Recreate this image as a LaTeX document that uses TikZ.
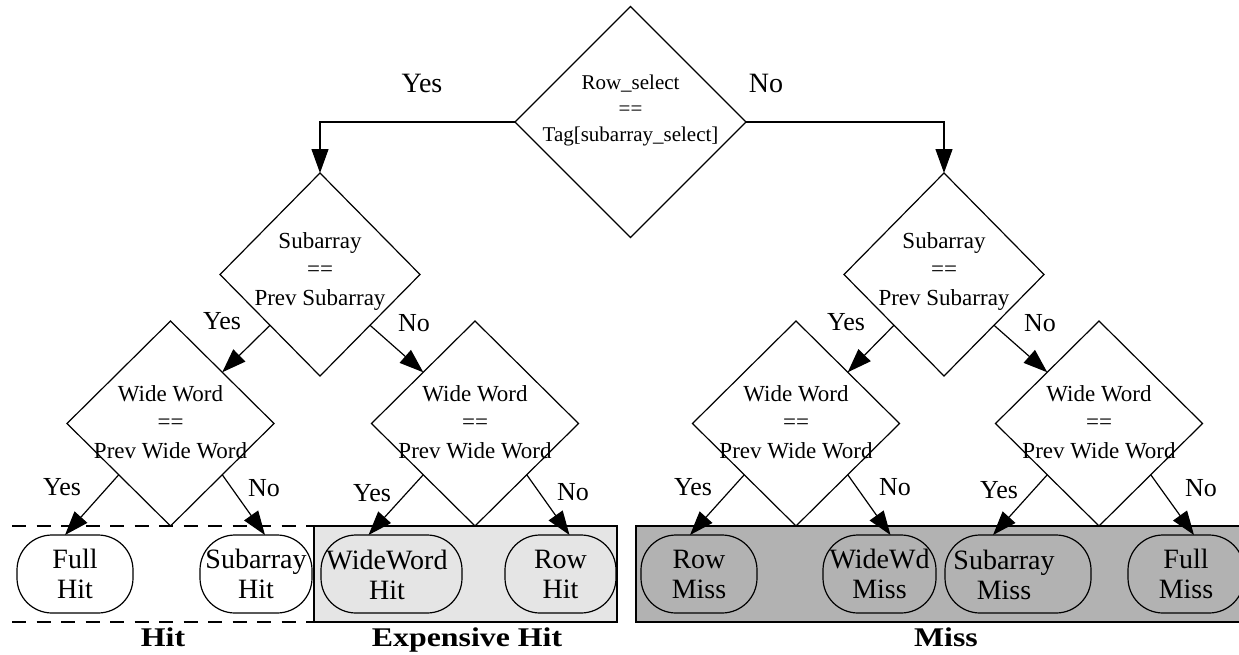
\documentclass[tikz,border=0pt]{standalone}
\usepackage{fontspec}
\setmainfont{Liberation Serif}
\newfontfamily\grpfont[FakeStretch=1.18]{Liberation Serif}
\usetikzlibrary{shapes.geometric,arrows.meta}
\tikzset{
  dia/.style={draw, shape=diamond, inner sep=0pt, outer sep=0pt, minimum width=207pt, minimum height=205pt, line width=1.2pt},
  dtext/.style={align=center, font=\fontsize{23}{28.5}\selectfont, inner sep=0pt},
  res/.style={draw, rounded corners=35pt, minimum height=78pt, minimum width=113pt, align=center, font=\fontsize{28}{30}\selectfont, inner sep=0pt, outer sep=0pt, line width=1.2pt},
  lbl/.style={font=\fontsize{26}{28}\selectfont, inner sep=0pt},
  toplbl/.style={font=\fontsize{28}{32}\selectfont, inner sep=0pt},
  arr/.style={-{Triangle[length=24pt,width=17pt]}, line width=1.2pt},
  grp/.style={font=\grpfont\bfseries\fontsize{27}{30}\selectfont, inner sep=0pt, anchor=base},
  grpbox/.style={draw, line width=1.3pt, inner sep=0pt, outer sep=0pt, anchor=north west},
  dashline/.style={dash pattern=on 14pt off 10.5pt, line width=1.3pt}
}
\begin{document}
\begin{tikzpicture}[x=1pt,y=-1pt]
\useasboundingbox (0,0) rectangle (1239,654);
% group areas
\coordinate (hitA) at (12,526);
\coordinate (hitB) at (314,526);
\coordinate (hitC) at (12,622);
\coordinate (hitD) at (314,622);
\draw[dashline] (hitA) -- (hitB);
\draw[dashline] (hitC) -- (hitD);
\node[grpbox, fill=black!10, minimum width=303pt, minimum height=96pt] (ebox) at (314,526) {};
\node[grpbox, fill=black!30, minimum width=620pt, minimum height=96pt] (mbox) at (636,526) {};
\node[grp] (hitl) at (163,646) {Hit};
\node[grp] (expl) at (467,646) {Expensive Hit};
\node[grp] (missl) at (946,646) {Miss};

% diamonds
\node[dia, minimum width=231pt, minimum height=231pt] (T) at (630.5,122) {};
\node[dtext, font=\fontsize{21}{26}\selectfont] (Tt) at (630.5,110) {Row\_select\\==\\Tag[subarray\_select]};
\node[dia, minimum width=200pt, minimum height=203pt] (L2) at (320,274.5) {};
\node[dtext] (L2t) at (320,271) {Subarray\\==\\Prev Subarray};
\node[dia, minimum width=200pt, minimum height=203pt] (R2) at (944,274.5) {};
\node[dtext] (R2t) at (944,271) {Subarray\\==\\Prev Subarray};
\node[dia] (L3) at (170.5,423.5) {};
\node[dtext] (L3t) at (170.5,422) {Wide Word\\==\\Prev Wide Word};
\node[dia] (L4) at (475,423.5) {};
\node[dtext] (L4t) at (475,422) {Wide Word\\==\\Prev Wide Word};
\node[dia] (R3) at (796,423.5) {};
\node[dtext] (R3t) at (796,422) {Wide Word\\==\\Prev Wide Word};
\node[dia] (R4) at (1099,423.5) {};
\node[dtext] (R4t) at (1099,422) {Wide Word\\==\\Prev Wide Word};

% results
\node[res, fill=white, minimum width=116pt] (fh) at (75,574) {Full\\Hit};
\node[res, fill=white, minimum width=112pt] (sh) at (256,574) {Subarray\\Hit};
\node[res, minimum width=141pt] (wh) at (391.5,574) {};
\node[font=\fontsize{28}{30}\selectfont, align=center, inner sep=0pt] (wht) at (387,575) {WideWord\\Hit};
\node[res, minimum width=111pt] (rh) at (560.5,574) {Row\\Hit};
\node[res, minimum width=116pt] (rm) at (699,574) {Row\\Miss};
\node[res, minimum width=113pt] (wm) at (879.5,574) {WideWd\\Miss};
\node[res, minimum width=146pt] (sm) at (1018,574) {};
\node[font=\fontsize{28}{30}\selectfont, align=center, inner sep=0pt] (smt) at (1004,575) {Subarray\\Miss};
\node[res, minimum width=116pt] (fm) at (1186,574) {Full\\Miss};

% connectors
\draw[arr] (T.west) -| (L2.north);
\draw[arr] (T.east) -| (R2.north);
\node[toplbl] (ty) at (422,83) {Yes};
\node[toplbl] (tn) at (766,83) {No};

\draw[arr] (L2.south west) -- (L3.north east);
\draw[arr] (L2.south east) -- (L4.north west);
\draw[arr] (R2.south west) -- (R3.north east);
\draw[arr] (R2.south east) -- (R4.north west);
\node[lbl] (l2y) at (222,321) {Yes};
\node[lbl] (l2n) at (414,323) {No};
\node[lbl] (r2y) at (846,322) {Yes};
\node[lbl] (r2n) at (1040,323) {No};

\draw[arr] (L3.south west) -- ([xshift=-10pt]fh.north);
\draw[arr] (L3.south east) -- ([xshift=9pt]sh.north);
\draw[arr] (L4.south west) -- ([xshift=-23pt]wh.north);
\draw[arr] (L4.south east) -- ([xshift=9pt]rh.north);
\draw[arr] (R3.south west) -- ([xshift=-9pt]rm.north);
\draw[arr] (R3.south east) -- ([xshift=11pt]wm.north);
\draw[arr] (R4.south west) -- ([xshift=-25pt]sm.north);
\draw[arr] (R4.south east) -- ([xshift=8pt]fm.north);
\node[lbl] (l3y) at (62,487) {Yes};
\node[lbl] (l3n) at (264,488) {No};
\node[lbl] (l4y) at (372,493) {Yes};
\node[lbl] (l4n) at (573,492) {No};
\node[lbl] (r3y) at (693,487) {Yes};
\node[lbl] (r3n) at (895,487) {No};
\node[lbl] (r4y) at (999,490) {Yes};
\node[lbl] (r4n) at (1201,488) {No};
\end{tikzpicture}
\end{document}
